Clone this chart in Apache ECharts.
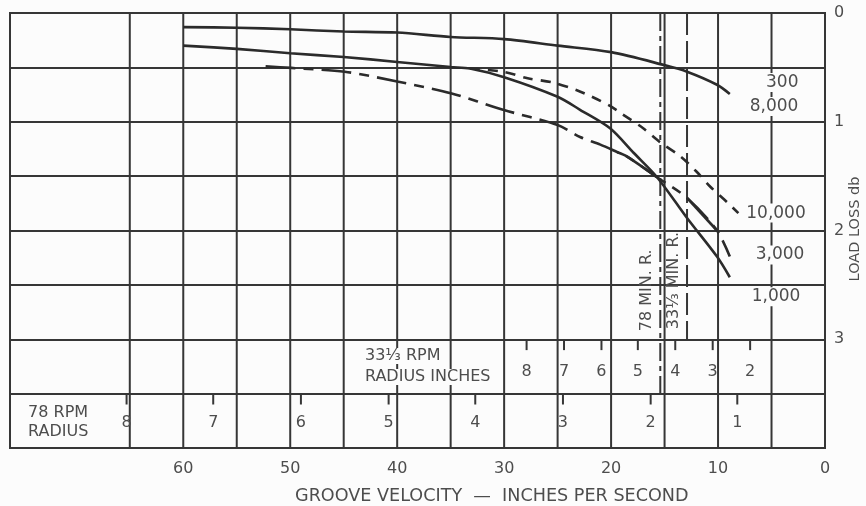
<!DOCTYPE html>
<html>
<head>
<meta charset="utf-8">
<script src="https://cdn.jsdelivr.net/npm/echarts@6/dist/echarts.min.js"></script>
<style>
  html, body { margin: 0; padding: 0; background: #fcfcfc; }
  #chart { width: 866px; height: 506px; }
</style>
</head>
<body>
<div id="chart"></div>
<script>
// groove velocity (in/s) vs load loss (db)
const gridVelocities = [5, 10, 15, 20, 25, 30, 35, 40, 45, 50, 55, 60, 65];

const curve300 = [[60, 0.13], [55, 0.135], [50, 0.15], [45, 0.17], [40, 0.18], [35, 0.22], [30, 0.24],
  [25, 0.30], [20, 0.36], [15, 0.48], [12.9, 0.54], [10.1, 0.66], [8.9, 0.745]];
const curve1000 = [[60, 0.30], [55, 0.33], [50, 0.37], [45, 0.405], [40, 0.45], [35, 0.497], [33.2, 0.51],
  [30, 0.59], [25, 0.77], [22.9, 0.89], [20.1, 1.06], [17.9, 1.285], [15.7, 1.51], [12.9, 1.885],
  [10.1, 2.24], [8.9, 2.43]];
const curve3000 = [[52.3, 0.49], [49.9, 0.505], [44.9, 0.54], [40, 0.63], [34.9, 0.74], [30.1, 0.89],
  [25, 1.03], [22.9, 1.14], [21, 1.21], [19.4, 1.28], [18.5, 1.32], [15.7, 1.51], [12.9, 1.70],
  [10.1, 2.0], [8.9, 2.24]];
const curve10000 = [[33.2, 0.51], [30.1, 0.54], [27.8, 0.60], [25.4, 0.64], [23.2, 0.71], [21.8, 0.77],
  [20.1, 0.855], [19.1, 0.92], [17.0, 1.06], [15.4, 1.19], [13.5, 1.32], [12.0, 1.46], [10.7, 1.60],
  [9.15, 1.74], [8.1, 1.84]];

const curveNames = ['300', '8,000', '10,000', '3,000', '1,000'];
const curveNameAt = [[4.0, 0.64], [4.76, 0.86], [4.58, 1.84], [4.2, 2.225], [4.58, 2.61]];

const rpm33Radius = [8, 7, 6, 5, 4, 3, 2];
const rpm33Velocity = [27.9, 24.4, 20.9, 17.5, 14.0, 10.5, 7.0];
const rpm78Radius = [8, 7, 6, 5, 4, 3, 2, 1];
const rpm78Velocity = [65.3, 57.2, 49.0, 40.8, 32.7, 24.5, 16.3, 8.2];

const minRadiusNames = ['78 MIN. R.', '33⅓ MIN. R.'];
const minRadiusVelocity = [15.4, 12.9];
const minRadiusBottom = [3.5, 3.0];

const chart = echarts.init(document.getElementById('chart'));
const ink = '#363636';
const textColor = '#4d4d4d';
const paper = '#fcfcfc';
const fontName = 'DejaVu Sans';

// plain vertical lines drawn through the axis scales
function verticals(values, bottoms, dash) {
  return {
    type: 'custom', z: 1, silent: true,
    data: values.map((v, i) => [v, bottoms[i]]),
    renderItem: (params, api) => {
      const a = api.coord([api.value(0), 0]);
      const b = api.coord([api.value(0), api.value(1)]);
      return {
        type: 'line',
        shape: { x1: a[0], y1: a[1], x2: b[0], y2: b[1] },
        style: { stroke: ink, lineWidth: 2, lineDash: dash || null }
      };
    }
  };
}

function curve(data, dash) {
  return {
    type: 'line', data: data, smooth: 0.3, symbol: 'none', silent: true, z: 3,
    lineStyle: { color: '#2b2b2b', width: 2.6, type: dash || 'solid' }
  };
}

// radius scales hang under the 3 and 3.5 db lines
function radiusScale(velocities, radii, rowTop, labelDrop) {
  return {
    type: 'custom', z: 4, silent: true,
    data: velocities.map(v => [v, rowTop]),
    renderItem: (params, api) => {
      const top = api.coord([api.value(0), api.value(1)]);
      const end = api.coord([api.value(0), api.value(1) + 0.1]);
      const lab = api.coord([api.value(0), api.value(1) + labelDrop]);
      return {
        type: 'group',
        children: [
          { type: 'line', shape: { x1: top[0], y1: top[1], x2: end[0], y2: end[1] },
            style: { stroke: ink, lineWidth: 2 } },
          { type: 'text', x: lab[0], y: lab[1],
            style: { text: String(radii[params.dataIndex]), fill: textColor,
              font: '16px ' + fontName, align: 'center', verticalAlign: 'middle' } }
        ]
      };
    }
  };
}

function texts(points, labels, style, rotation) {
  return {
    type: 'custom', z: 6, silent: true,
    data: points,
    renderItem: (params, api) => {
      const p = api.coord([api.value(0), api.value(1)]);
      return {
        type: 'text', x: p[0], y: p[1], rotation: rotation || 0,
        style: Object.assign({
          text: labels[params.dataIndex], fill: textColor, font: '16px ' + fontName,
          align: 'center', verticalAlign: 'middle'
        }, style)
      };
    }
  };
}

const options = {
  backgroundColor: paper,
  animation: false,
  grid: {
    left: 10, right: 41, top: 13, bottom: 58,
    outerBoundsMode: 'none',
    show: true, borderColor: ink, borderWidth: 2
  },
  xAxis: {
    type: 'value', inverse: true, min: 0, max: 76.2, interval: 10,
    axisLine: { show: false },
    axisTick: { show: false },
    splitLine: { show: false },
    axisLabel: {
      margin: 13, color: textColor, fontSize: 16, fontFamily: fontName,
      formatter: v => (v <= 60 && v % 10 === 0 ? String(v) : '')
    }
  },
  yAxis: {
    type: 'value', inverse: true, position: 'right', min: 0, max: 4, interval: 0.5,
    axisLine: { show: false },
    axisTick: { show: false },
    splitLine: { show: true, lineStyle: { color: ink, width: 2 } },
    axisLabel: {
      margin: 9, color: textColor, fontSize: 16, fontFamily: fontName,
      formatter: v => (Number.isInteger(v) && v <= 3 ? String(v) : '')
    }
  },
  graphic: [{
    type: 'text', left: 295, top: 487,
    style: { text: 'GROOVE VELOCITY  —  INCHES PER SECOND', fill: textColor, font: '17.6px ' + fontName }
  }, {
    // axis name, reads bottom to top
    type: 'text', x: 855, y: 229, rotation: Math.PI / 2,
    style: { text: 'LOAD LOSS db', fill: textColor, font: '14.5px ' + fontName, align: 'center', verticalAlign: 'middle' }
  }],
  series: [
    verticals(gridVelocities, gridVelocities.map(() => 4)),
    verticals(minRadiusVelocity.slice(0, 1), minRadiusBottom.slice(0, 1), [18, 5, 5, 5]),
    verticals(minRadiusVelocity.slice(1), minRadiusBottom.slice(1), [22, 6]),
    curve(curve300),
    curve(curve1000),
    curve(curve10000, [10, 8]),
    curve(curve3000, [30, 8, 10, 8]),
    curve(curve3000.slice(9, 12)),
    curve(curve3000.slice(12, 14)),
    radiusScale(rpm33Velocity, rpm33Radius, 3.0, 0.3),
    radiusScale(rpm78Velocity, rpm78Radius, 3.5, 0.27),
    texts(curveNameAt, curveNames, { font: '17px ' + fontName, backgroundColor: paper, padding: [1, 2] }),
    texts([[16.7, 2.55], [14.1, 2.46]], minRadiusNames, {}, Math.PI / 2),
    texts([[71.7, 3.765]], ['78 RPM\nRADIUS'], { lineHeight: 19 }),
    texts([[43.2, 3.25]], ['{a|33⅓ RPM}\n{a|RADIUS INCHES}'], {
      align: 'left',
      rich: { a: { backgroundColor: paper, fill: textColor, font: '16px ' + fontName, lineHeight: 21, padding: [0, 2] } }
    })
  ]
};

chart.setOption(options);
window.addEventListener('resize', () => chart.resize());
</script>
</body>
</html>
